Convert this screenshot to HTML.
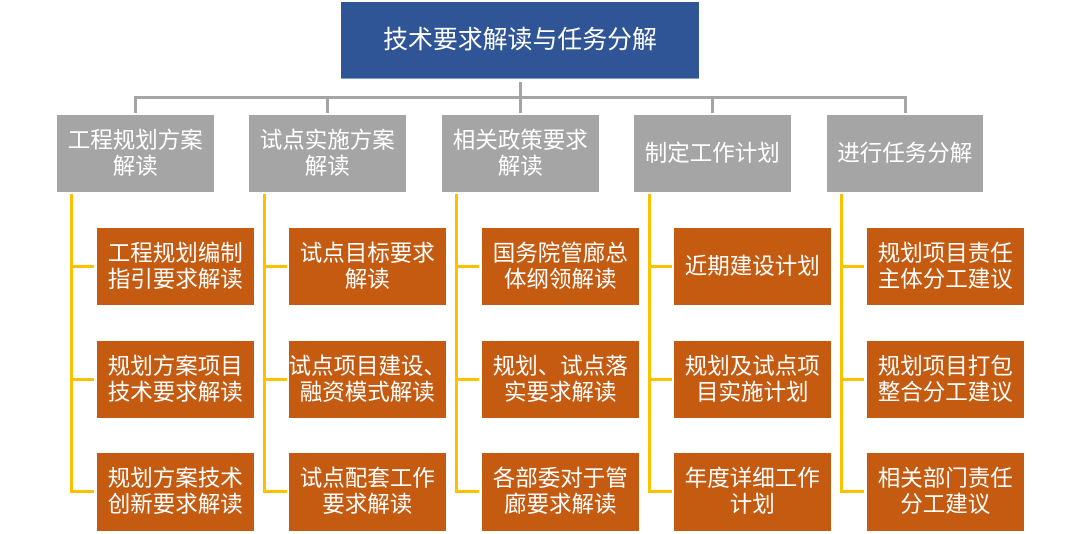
<!DOCTYPE html>
<html lang="zh-CN">
<head>
<meta charset="utf-8">
<style>
html,body{margin:0;padding:0;background:#fff}
#c{position:relative;width:1080px;height:534px;overflow:hidden;background:#fff;font-family:"Liberation Sans","Noto Sans CJK SC",sans-serif;filter:blur(.3px)}
.b{position:absolute;display:flex;align-items:center;justify-content:center;text-align:center;color:#fff;box-sizing:border-box;white-space:nowrap;font-size:22.5px;line-height:26px;font-weight:400}
.g{width:156.5px;height:77px;top:115px;background:#a5a5a5}
.o{width:156.5px;height:77px;background:#c55a11}
.l{position:absolute;background:#a5a5a5}
.y{position:absolute;background:#ffc000}
</style>
</head>
<body>
<div id="c">
<div class="l" style="left:134px;top:96px;width:772px;height:3px"></div>
<div class="l" style="left:134px;top:96px;width:3px;height:17px"></div>
<div class="l" style="left:326px;top:96px;width:3px;height:17px"></div>
<div class="l" style="left:519px;top:82px;width:3px;height:31px"></div>
<div class="l" style="left:711px;top:96px;width:3px;height:17px"></div>
<div class="l" style="left:904px;top:96px;width:3px;height:17px"></div>

<div class="y" style="left:70px;top:194px;width:3px;height:299px"></div>
<div class="y" style="left:70px;top:265px;width:24px;height:3px"></div>
<div class="y" style="left:70px;top:378px;width:24px;height:3px"></div>
<div class="y" style="left:70px;top:490px;width:24px;height:3px"></div>

<div class="y" style="left:263px;top:194px;width:3px;height:299px"></div>
<div class="y" style="left:263px;top:265px;width:24px;height:3px"></div>
<div class="y" style="left:263px;top:378px;width:24px;height:3px"></div>
<div class="y" style="left:263px;top:490px;width:24px;height:3px"></div>

<div class="y" style="left:455px;top:194px;width:3px;height:299px"></div>
<div class="y" style="left:455px;top:265px;width:24px;height:3px"></div>
<div class="y" style="left:455px;top:378px;width:24px;height:3px"></div>
<div class="y" style="left:455px;top:490px;width:24px;height:3px"></div>

<div class="y" style="left:648px;top:194px;width:3px;height:299px"></div>
<div class="y" style="left:648px;top:265px;width:24px;height:3px"></div>
<div class="y" style="left:648px;top:378px;width:24px;height:3px"></div>
<div class="y" style="left:648px;top:490px;width:24px;height:3px"></div>

<div class="y" style="left:840px;top:194px;width:3px;height:299px"></div>
<div class="y" style="left:840px;top:265px;width:24px;height:3px"></div>
<div class="y" style="left:840px;top:378px;width:24px;height:3px"></div>
<div class="y" style="left:840px;top:490px;width:24px;height:3px"></div>

<div class="b" style="left:341px;top:2px;width:358px;height:77px;background:#2f5597;font-size:24.9px;border-bottom:1px solid #7f9fd0">技术要求解读与任务分解</div>

<div class="b g" style="left:57px">工程规划方案<br>解读</div>
<div class="b g" style="left:249px">试点实施方案<br>解读</div>
<div class="b g" style="left:442px">相关政策要求<br>解读</div>
<div class="b g" style="left:634px">制定工作计划</div>
<div class="b g" style="left:826.5px">进行任务分解</div>

<div class="b o" style="left:97px;top:228px">工程规划编制<br>指引要求解读</div>
<div class="b o" style="left:97px;top:341px">规划方案项目<br>技术要求解读</div>
<div class="b o" style="left:97px;top:453px;height:78px">规划方案技术<br>创新要求解读</div>

<div class="b o" style="left:289px;top:228px">试点目标要求<br>解读</div>
<div class="b o" style="left:289px;top:341px">试点项目建设、<br>融资模式解读</div>
<div class="b o" style="left:289px;top:453px;height:78px">试点配套工作<br>要求解读</div>

<div class="b o" style="left:482px;top:228px">国务院管廊总<br>体纲领解读</div>
<div class="b o" style="left:482px;top:341px">规划、试点落<br>实要求解读</div>
<div class="b o" style="left:482px;top:453px;height:78px">各部委对于管<br>廊要求解读</div>

<div class="b o" style="left:674px;top:228px">近期建设计划</div>
<div class="b o" style="left:674px;top:341px">规划及试点项<br>目实施计划</div>
<div class="b o" style="left:674px;top:453px;height:78px">年度详细工作<br>计划</div>

<div class="b o" style="left:867px;top:228px">规划项目责任<br>主体分工建议</div>
<div class="b o" style="left:867px;top:341px">规划项目打包<br>整合分工建议</div>
<div class="b o" style="left:867px;top:453px;height:78px">相关部门责任<br>分工建议</div>
</div>
</body>
</html>
